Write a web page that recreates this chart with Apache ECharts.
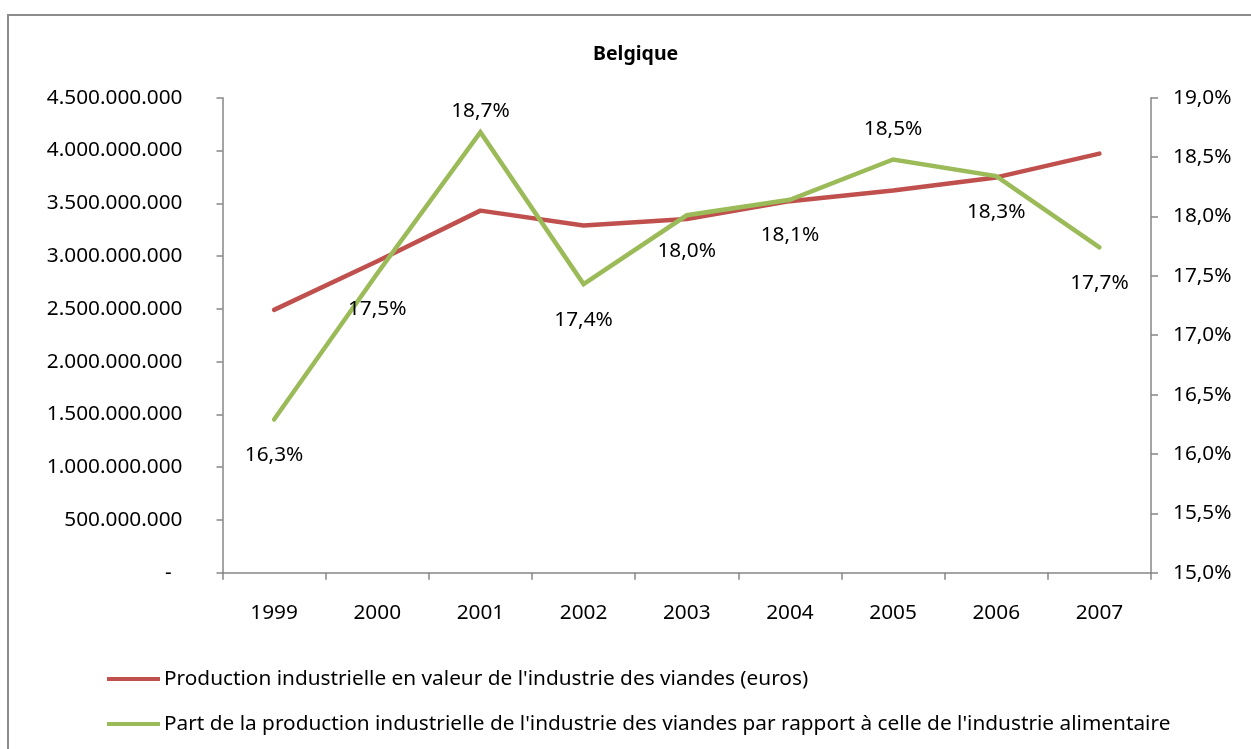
<!DOCTYPE html>
<html>
<head>
<meta charset="utf-8">
<script src="https://cdn.jsdelivr.net/npm/echarts@6/dist/echarts.min.js"></script>
<style>
  html, body { margin: 0; padding: 0; background: #fff; }
  #chart { width: 1251px; height: 749px; }
</style>
</head>
<body>
<div id="chart"></div>
<script>
  // Belgique - industrie des viandes
  var years = ['1999', '2000', '2001', '2002', '2003', '2004', '2005', '2006', '2007'];
  var productionEuros = [2.49e9, 2.95e9, 3.43e9, 3.29e9, 3.35e9, 3.52e9, 3.62e9, 3.745e9, 3.97e9];
  var partViandes = [16.29, 17.52, 18.71, 17.43, 18.01, 18.14, 18.48, 18.34, 17.74];
  var nameProd = "Production industrielle en valeur de l'industrie des viandes (euros)";
  var namePart = "Part de la production industrielle de l'industrie des viandes par rapport à celle de l'industrie alimentaire";

  // labels placed above the line (index -> distance), others go below
  var labelsAbove = { 2: 11, 6: 20 };

  var font = 'Noto Sans';
  var fs = 20.8;
  var axisGray = '#868686';

  function fmtThousands(v) {
    if (v === 0) return '-  ';
    return String(Math.round(v)).replace(/\B(?=(\d{3})+(?!\d))/g, '.');
  }
  function fmtPct(v) {
    return v.toFixed(1).replace('.', ',') + '%';
  }

  var partData = partViandes.map(function (v, i) {
    var above = labelsAbove[i] !== undefined;
    return {
      value: v,
      label: { position: above ? 'top' : 'bottom', distance: above ? labelsAbove[i] : 25 }
    };
  });

  var myChart = echarts.init(document.getElementById('chart'));
  var option = {
    animation: false,
    textStyle: { fontFamily: font },
    title: {
      text: 'Belgique',
      left: 588,
      top: 39,
      textStyle: { fontFamily: font, fontSize: 19.5, fontWeight: 'bold', color: '#000' }
    },
    graphic: [{
      type: 'rect',
      shape: { x: 8, y: 15, width: 1400, height: 1000 },
      style: { fill: 'none', stroke: '#8c8c8c', lineWidth: 2 },
      silent: true
    }],
    grid: { left: 222.5, right: 100, top: 97.7, bottom: 176.3, containLabel: false },
    legend: {
      orient: 'vertical',
      left: 102,
      top: 662,
      icon: 'rect',
      itemWidth: 53,
      itemHeight: 4,
      itemGap: 21,
      textStyle: { fontFamily: font, fontSize: fs, color: '#000', lineHeight: 24, padding: [0, 0, 0, -1] },
      data: [
        { name: nameProd, itemStyle: { color: '#C0504D' } },
        { name: namePart, itemStyle: { color: '#9BBB59' } }
      ]
    },
    xAxis: {
      type: 'category',
      data: years,
      boundaryGap: true,
      axisLine: { lineStyle: { color: axisGray, width: 1.5 } },
      axisTick: { show: true, length: 7, lineStyle: { color: axisGray, width: 1.5 } },
      axisLabel: { color: '#000', fontSize: fs, fontFamily: font, margin: 30 },
      splitLine: { show: false }
    },
    yAxis: [{
      type: 'value',
      min: 0,
      max: 4.5e9,
      interval: 5e8,
      position: 'left',
      axisLine: { show: true, lineStyle: { color: axisGray, width: 1.5 } },
      axisTick: { show: true, length: 6, lineStyle: { color: axisGray, width: 1.5 } },
      axisLabel: { color: '#000', fontSize: fs, fontFamily: font, margin: 40, formatter: fmtThousands },
      splitLine: { show: false }
    }, {
      type: 'value',
      min: 15,
      max: 19,
      interval: 0.5,
      position: 'right',
      axisLine: { show: true, lineStyle: { color: axisGray, width: 1.5 } },
      axisTick: { show: true, length: 7, lineStyle: { color: axisGray, width: 1.5 } },
      axisLabel: { color: '#000', fontSize: fs, fontFamily: font, margin: 22, formatter: fmtPct },
      splitLine: { show: false }
    }],
    series: [{
      name: nameProd,
      type: 'line',
      yAxisIndex: 0,
      data: productionEuros,
      showSymbol: false,
      symbol: 'none',
      lineStyle: { color: '#C0504D', width: 4.5, cap: 'round', join: 'round' },
      itemStyle: { color: '#C0504D' }
    }, {
      name: namePart,
      type: 'line',
      yAxisIndex: 1,
      data: partData,
      showSymbol: true,
      symbol: 'circle',
      symbolSize: 0,
      lineStyle: { color: '#9BBB59', width: 4.5, cap: 'round', join: 'miter' },
      itemStyle: { color: '#9BBB59' },
      label: {
        show: true,
        color: '#000',
        fontSize: fs,
        fontFamily: font,
        formatter: function (p) { return fmtPct(p.value); }
      }
    }]
  };
  myChart.setOption(option);
</script>
</body>
</html>
